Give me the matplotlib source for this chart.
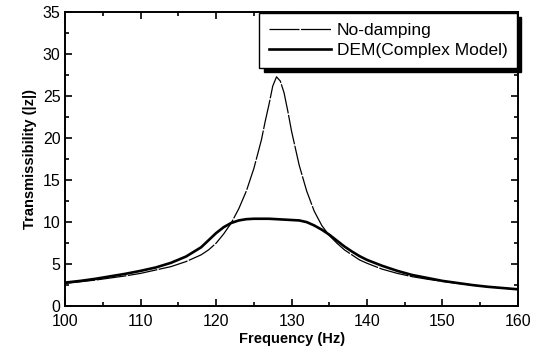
import matplotlib
matplotlib.use("Agg")
import matplotlib.pyplot as plt
from matplotlib.ticker import MultipleLocator

plt.rcParams['font.family'] = ['Liberation Sans', 'DejaVu Sans']

freq_nd = [100, 102, 104, 106, 108, 110, 112, 114, 116, 118, 119, 120, 121, 122, 123, 124,
           125, 126, 126.5, 127, 127.5, 128, 128.5, 129, 129.5, 130, 131, 132, 133, 134,
           135, 136, 137, 138, 139, 140, 142, 144, 146, 148, 150, 152, 154, 156, 158, 160]
no_damping = [2.7, 2.9, 3.1, 3.35, 3.6, 3.9, 4.3, 4.7, 5.3, 6.1, 6.7, 7.5, 8.6, 9.9, 11.6, 13.7,
              16.4, 19.8, 22.0, 24.0, 26.2, 27.3, 26.8, 25.4, 23.2, 20.8, 16.8, 13.7, 11.3, 9.6,
              8.4, 7.5, 6.7, 6.1, 5.5, 5.1, 4.4, 3.9, 3.5, 3.2, 2.95, 2.7, 2.5, 2.3, 2.15, 2.0]

freq_dem = [100, 102, 104, 106, 108, 110, 112, 114, 116, 118, 120, 121, 122, 123, 124, 125,
            126, 127, 128, 129, 130, 131, 132, 133, 134, 135, 136, 137, 138, 139, 140,
            142, 144, 146, 148, 150, 152, 154, 156, 158, 160]
dem = [2.8, 3.0, 3.25, 3.55, 3.85, 4.2, 4.6, 5.15, 5.9, 7.0, 8.7, 9.4, 9.9, 10.2, 10.35, 10.4,
       10.4, 10.4, 10.35, 10.3, 10.25, 10.2, 10.0, 9.6, 9.1, 8.5, 7.8, 7.1, 6.5, 5.95, 5.5,
       4.8, 4.2, 3.7, 3.35, 3.0, 2.75, 2.5, 2.3, 2.15, 2.0]

fig = plt.figure(figsize=(5.4, 3.58), dpi=100)
ax = fig.add_axes([0.121, 0.145, 0.838, 0.821])

ax.plot(freq_nd, no_damping, color='black', lw=0.9, linestyle=(0, (24, 1.2)), label='No-damping')
ax.plot(freq_dem, dem, color='black', lw=1.9, label='DEM(Complex Model)')

ax.set_xlim(100, 160)
ax.set_ylim(0, 35)
ax.xaxis.set_major_locator(MultipleLocator(10))
ax.xaxis.set_minor_locator(MultipleLocator(5))
ax.yaxis.set_major_locator(MultipleLocator(5))
ax.yaxis.set_minor_locator(MultipleLocator(2.5))
ax.tick_params(which='both', direction='in', top=True, right=True, labelsize=11.5, width=1.2)
ax.tick_params(which='major', length=5)
ax.tick_params(which='minor', length=3)
ax.tick_params(axis='x', pad=6)
for s in ax.spines.values():
    s.set_linewidth(1.4)

ax.set_xlabel('Frequency (Hz)', fontsize=10.5, fontweight='bold', labelpad=2)
ax.set_ylabel('Transmissibility (|z|)', fontsize=10.5, fontweight='bold', labelpad=4)

leg = ax.legend(loc='upper right', bbox_to_anchor=(1.0, 1.0), borderaxespad=0.05,
                fontsize=12.5, handlelength=3.6, handletextpad=0.3, fancybox=False,
                framealpha=1, edgecolor='black', labelspacing=0.3, borderpad=0.55,
                shadow={'color': 'black', 'alpha': 1, 'ox': 3, 'oy': -3})
leg.get_frame().set_linewidth(1.0)

fig.savefig('out.png', dpi=100)
